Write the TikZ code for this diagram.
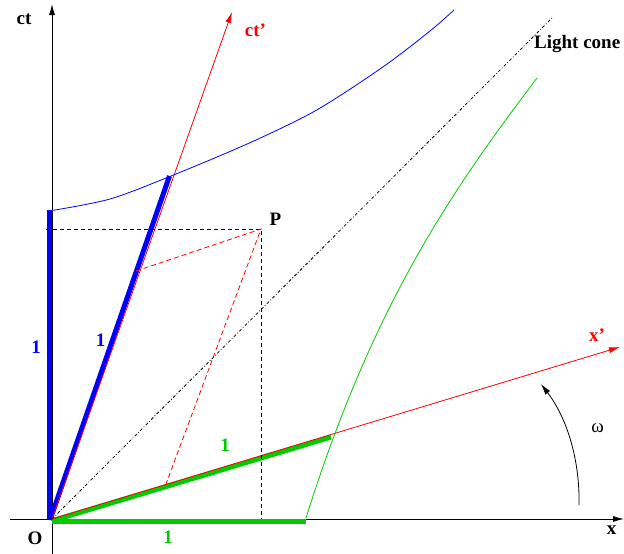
\documentclass[tikz,border=0pt]{standalone}
\usepackage{fontspec}
\setmainfont{Liberation Serif}
\usetikzlibrary{arrows.meta}
\definecolor{fgreen}{RGB}{0,205,0}
\begin{document}
\begin{tikzpicture}[x=1pt,y=-1pt,
  axis/.style={black,line width=0.9pt,-{Latex[length=11pt,width=6pt]}},
  redax/.style={red,line width=0.8pt,-{Latex[length=11pt,width=6pt]}},
  thickblue/.style={blue,line width=5pt},
  thickgreen/.style={fgreen,line width=5pt},
  hyp/.style={line width=0.8pt},
  blackdash/.style={black,line width=0.8pt,dash pattern=on 4pt off 3pt},
  reddash/.style={red,line width=0.8pt,dash pattern=on 5pt off 3pt},
  cone/.style={black,line width=0.8pt,dash pattern=on 3pt off 2pt on 0.8pt off 2pt},
  lbl/.style={font=\fontsize{19}{19}\selectfont\bfseries,inner sep=0pt}]
\useasboundingbox (0,0) rectangle (624,554);
% coordinates
\coordinate (O) at (52,519);
\coordinate (xs) at (10,519);
\coordinate (xe) at (624,519);
\coordinate (ts) at (52,554);
\coordinate (te) at (52,4);
\coordinate (tp) at (232,12);
\coordinate (xp) at (620,347);
\coordinate (lc) at (553,17);
\coordinate (P) at (261,229);
\coordinate (Pl) at (46,229);
\coordinate (Pd) at (261,519);
\coordinate (Pct) at (136,271);
\coordinate (Pxx) at (166,484);
\coordinate (bt) at (49.5,210);
\coordinate (bb) at (49.5,519);
\coordinate (bps) at (50,520);
\coordinate (bpe) at (169.5,176);
\coordinate (gs) at (52,521);
\coordinate (ge) at (305.5,521);
\coordinate (gps) at (53,520.5);
\coordinate (gpe) at (331,437);
\coordinate (g0) at (306,518);
\coordinate (g3) at (537,78);
\coordinate (ws) at (579,505);
\coordinate (we) at (541,384);
% axes
\draw[axis] (xs) -- (xe);
\draw[axis] (ts) -- (te);
% thick unit bars
\draw[thickblue] (bb) -- (bt);
\draw[thickblue] (bps) -- (bpe);
\draw[thickgreen] (gs) -- (ge);
\draw[thickgreen] (gps) -- (gpe);
% rotated axes
\draw[redax] (O) -- (tp);
\draw[redax] (O) -- (xp);
% light cone
\draw[cone] (O) -- (lc);
% dashed projections
\draw[blackdash] (Pl) -- (P) -- (Pd);
\draw[reddash] (Pct) -- (P) -- (Pxx);
% hyperbolas
\draw[hyp,blue] plot[smooth,tension=0.5] coordinates
  {(52,210.5) (110,199) (171,176) (250,142.7) (316.7,110) (383.3,66.7) (430,31) (454,10)};
\draw[hyp,fgreen] (g0) .. controls (373.5,303) and (452,190.5) .. (g3);
% omega arc
\draw[black,line width=0.8pt,-{Latex[length=11pt,width=6pt]}] (ws) .. controls (580,460) and (567,418) .. (we);
% labels
\node[lbl] (lct) at (24,19) {ct};
\node[lbl,red] (lctp) at (255.5,30) {ct'};
\node[lbl,anchor=base west] (llc) at (534,48.3) {Light cone};
\node[lbl] (lP) at (275.5,219) {P};
\node[lbl,red] (lxp) at (597,335) {x'};
\node[inner sep=0pt,font=\fontsize{19}{19}\selectfont] (lw) at (597.5,428) {ω};
\node[lbl] (lx) at (611.5,530.5) {x};
\node[lbl] (lO) at (35,538) {O};
\node[lbl,blue] (lb1) at (36,347.7) {1};
\node[lbl,blue] (lb2) at (100.7,340) {1};
\node[lbl,fgreen] (lg1) at (225,445.7) {1};
\node[lbl,fgreen] (lg2) at (168,537) {1};
\end{tikzpicture}
\end{document}
